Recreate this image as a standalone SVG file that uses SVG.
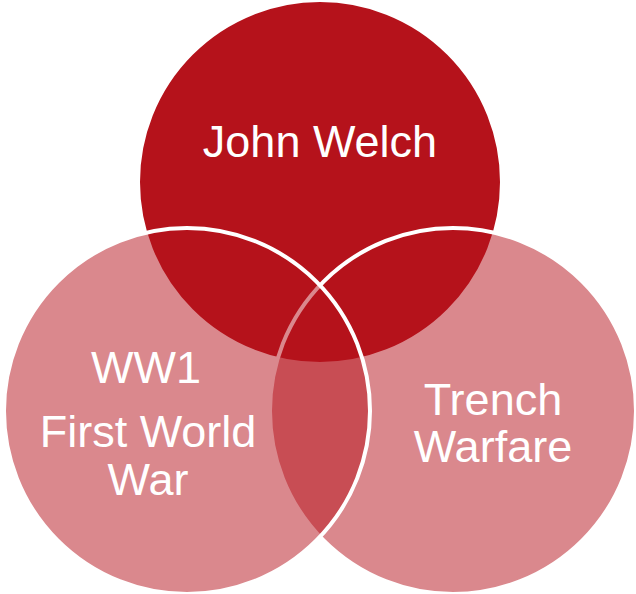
<svg xmlns="http://www.w3.org/2000/svg" width="636" height="594" viewBox="0 0 636 594">
  <style>
    .c { stroke: #FFFFFF; stroke-width: 4; }
    .top { fill: #B5121B; }
    .side { fill: #B5121B; fill-opacity: 0.5; }
    .t { font-family: "Liberation Sans", Arial, sans-serif; font-size: 45px; fill: #FFFFFF; text-anchor: middle; }
  </style>
  <rect width="636" height="594" fill="#FFFFFF"/>
  <g id="john-welch">
    <circle class="c top" cx="320" cy="182" r="182"/>
    <text class="t" x="320" y="157">John Welch</text>
  </g>
  <g id="trench-warfare">
    <circle class="c side" cx="453" cy="411" r="183"/>
    <text class="t" x="493" y="415">Trench</text>
    <text class="t" x="493" y="462">Warfare</text>
  </g>
  <g id="ww1">
    <circle class="c side" cx="187" cy="411" r="183"/>
    <text class="t" x="146" y="383">WW1</text>
    <text class="t" x="148" y="447">First World</text>
    <text class="t" x="148" y="495">War</text>
  </g>
</svg>
